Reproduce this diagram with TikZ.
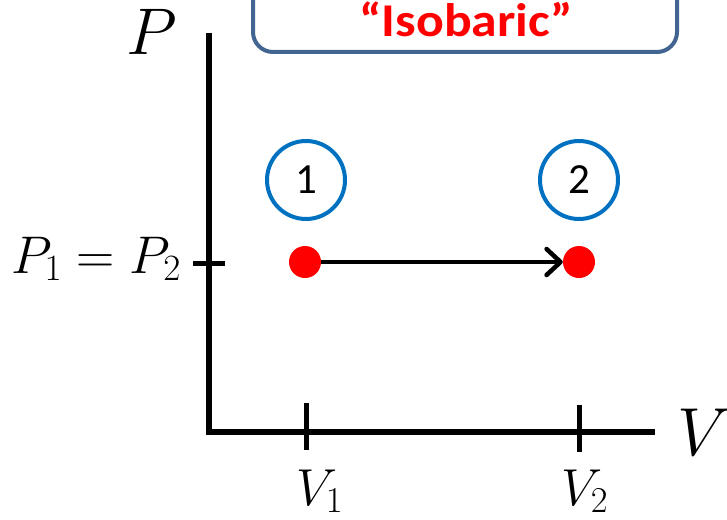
\RequirePackage{fix-cm}
\documentclass[tikz,border=0pt]{standalone}
\usepackage{fontspec}
\newfontfamily\calibri{Carlito}
\usetikzlibrary{arrows.meta}
\definecolor{boxblue}{RGB}{65,100,145}
\definecolor{ringblue}{RGB}{0,112,192}
\begin{document}
\begin{tikzpicture}[x=1pt,y=-1pt,
  axisline/.style={line width=5.5pt,line join=miter},
  tickline/.style={line width=5pt},
  ring/.style={circle,draw=ringblue,line width=4pt,minimum size=78pt,inner sep=0pt,font=\calibri\fontsize{43}{43}\selectfont},
  dot/.style={circle,fill=red,minimum size=32pt,inner sep=0pt},
  lab/.style={inner sep=0pt}]
\useasboundingbox (0,0) rectangle (727,519);
\clip (0,0) rectangle (727,519);
% title box
\node[draw=boxblue,line width=4pt,rounded corners=20pt,minimum width=424pt,minimum height=92pt,inner sep=0pt] (box) at (465,6) {};
\node[lab,anchor=base,text=red,font=\calibri\bfseries\fontsize{47}{47}\selectfont] (title) at (466,37) {\scalebox{1.1}[1]{“Isobaric”}};
% axes
\coordinate (O) at (209,432);
\coordinate (ytop) at (209,33);
\coordinate (xend) at (655,432);
\draw[axisline] (ytop) -- (O) -- (xend);
% ticks
\coordinate (tpa) at (193,263); \coordinate (tpb) at (225,263);
\coordinate (t1a) at (306,403); \coordinate (t1b) at (306,450);
\coordinate (t2a) at (579,405); \coordinate (t2b) at (579,452);
\draw[tickline] (tpa) -- (tpb);
\draw[tickline] (t1a) -- (t1b);
\draw[tickline] (t2a) -- (t2b);
% states
\node[dot] (d1) at (305,262) {};
\node[dot] (d2) at (579,262) {};
\draw[line width=4.5pt,-{Straight Barb[length=14pt,width=26pt,line cap=round,line join=round]}] (d1) -- (d2);
\node[ring] (c1) at (306,180) {1};
\node[ring] (c2) at (579,180) {2};
% labels
\node[lab,anchor=base] (P) at (152,55) {\fontsize{66}{66}\selectfont$P$};
\node[lab,anchor=base west] (V) at (677,455) {\fontsize{68}{68}\selectfont$V$};
\node[lab,anchor=base east] (p12) at (181,273) {\fontsize{53}{53}\selectfont$P_1=P_2$};
\node[lab,anchor=base west] (v1) at (296,505) {\fontsize{52}{52}\selectfont$V_1$};
\node[lab,anchor=base west] (v2) at (561,505) {\fontsize{52}{52}\selectfont$V_2$};
\end{tikzpicture}
\end{document}
